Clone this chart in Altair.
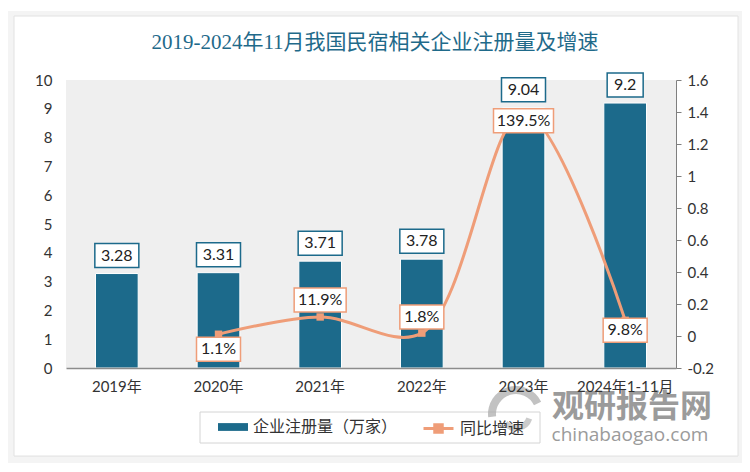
import altair as alt
import pandas as pd

# ---------------- data ----------------
years = ["2019年", "2020年", "2021年", "2022年", "2023年", "2024年1-11月"]
counts = [3.28, 3.31, 3.71, 3.78, 9.04, 9.2]
growth = [None, 0.011, 0.119, 0.018, 1.395, 0.098]
series_names = ["企业注册量（万家）", "同比增速"]
title_text = "2019-2024年11月我国民宿相关企业注册量及增速"
watermark_cn = "观研报告网"
watermark_en = "chinabaogao.com"
left_ticks = [0, 1, 2, 3, 4, 5, 6, 7, 8, 9, 10]
right_ticks = [-0.2, 0, 0.2, 0.4, 0.6, 0.8, 1, 1.2, 1.4, 1.6]

# ---------------- style ----------------
BAR = "#1c6a8b"
ORANGE = "#ef9d78"
TEXT = "#333333"
FONT = "Lato, 'Noto Sans CJK SC', sans-serif"
W, H = 610, 288
BOX_PATH = "'M-1,-' + (24 / datum.w) + 'H1V' + (24 / datum.w) + 'H-1Z'"

df = pd.DataFrame({"year": years, "count": counts, "growth": growth,
                   "s": series_names[0], "s2": series_names[1]})

xenc = alt.X("year:N", sort=years,
             scale=alt.Scale(paddingInner=0.58, paddingOuter=0.29),
             axis=alt.Axis(title=None, labelAngle=0, ticks=False,
                           domainColor="#8c8c8c", domainWidth=1.5,
                           labelFontSize=15, labelPadding=11,
                           labelColor=TEXT, labelFont=FONT, zindex=1))

yleft = alt.Y("count:Q",
              scale=alt.Scale(domain=[0, 10], nice=False, zero=True),
              axis=alt.Axis(title=None, orient="left", values=left_ticks,
                            ticks=False, domain=False, grid=False,
                            labelFontSize=15, labelPadding=14,
                            labelColor=TEXT, labelFont=FONT, zindex=1))

yright = alt.Y("growth:Q",
               scale=alt.Scale(domain=[-0.2, 1.6], nice=False, zero=False),
               axis=alt.Axis(title=None, orient="right", values=right_ticks,
                             tickSize=5, tickColor="#7f7f7f",
                             domainColor="#7f7f7f", grid=False,
                             labelFontSize=15, labelPadding=6,
                             labelColor=TEXT, labelFont=FONT, zindex=1,
                             labelExpr="replace(format(datum.value, '.1~f'), '\u2212', '-')"))

leg_common = dict(orient="none", direction="horizontal", title=None,
                  padding=0, labelFontSize=16, labelColor=TEXT,
                  labelFont=FONT, symbolSize=900, labelOffset=5)

bar_legend = alt.Legend(legendX=152, legendY=332,
                        symbolType="M-1,-0.26H1V0.26H-1Z",
                        symbolStrokeWidth=0, **leg_common)
line_legend = alt.Legend(legendX=356, legendY=332,
                         symbolType="M-1,0H1M-0.25,-0.25H0.25V0.25H-0.25Z",
                         symbolFillColor=ORANGE, symbolStrokeWidth=3,
                         **leg_common)

# ---------------- bars ----------------
bars = alt.Chart(df).mark_bar(stroke="white", strokeWidth=1).encode(
    x=xenc, y=yleft,
    fill=alt.Fill("s:N", scale=alt.Scale(domain=[series_names[0]],
                                         range=[BAR]),
                  legend=bar_legend))

bar_base = alt.Chart(df).transform_calculate(
    lab="format(datum.count, '.3~g')").transform_calculate(
    w="8 * length(datum.lab) + 12").transform_calculate(
    sz="datum.w * datum.w", path=BOX_PATH)

bar_box = bar_base.mark_point(filled=True, fill="white", stroke=BAR,
                              strokeWidth=1.5, opacity=1, fillOpacity=1,
                              strokeOpacity=1, yOffset=-18).encode(
    x=xenc, y=yleft,
    shape=alt.Shape("path:N", scale=None),
    size=alt.Size("sz:Q", scale=None))
bar_txt = bar_base.mark_text(fontSize=16, color="#222222", font=FONT,
                             baseline="middle", yOffset=-18).encode(
    x=xenc, y=yleft, text="lab:N")

bar_group = alt.layer(bars, bar_box, bar_txt)

# ---------------- line ----------------
line_src = alt.Chart(df).transform_filter("datum.growth != null")
line = line_src.mark_line(interpolate="catmull-rom", strokeWidth=3).encode(
    x=xenc, y=yright,
    stroke=alt.Stroke("s2:N", scale=alt.Scale(domain=[series_names[1]],
                                              range=[ORANGE]),
                      legend=line_legend))
pts = line_src.mark_point(shape="square", filled=True, size=55,
                          color=ORANGE, opacity=1).encode(x=xenc, y=yright)

label_dy = {"2020年": 15, "2021年": -17, "2022年": -16, "2023年": 8,
            "2024年1-11月": 10}

gl_layers = []
for yr, dy in label_dy.items():
    b = line_src.transform_filter(alt.datum.year == yr).transform_calculate(
        lab="format(datum.growth, '.1%')").transform_calculate(
        w="8 * length(datum.lab) + 12").transform_calculate(
        sz="datum.w * datum.w", path=BOX_PATH)
    gl_layers.append(b.mark_point(filled=True, fill="white", stroke=ORANGE,
                                  strokeWidth=1.5, opacity=1, fillOpacity=1,
                                  strokeOpacity=1, yOffset=dy).encode(
        x=xenc, y=yright, shape=alt.Shape("path:N", scale=None),
        size=alt.Size("sz:Q", scale=None)))
    gl_layers.append(b.mark_text(fontSize=16, color="#222222", font=FONT,
                                 baseline="middle", yOffset=dy).encode(
        x=xenc, y=yright, text="lab:N"))

line_group = alt.layer(line, pts, *gl_layers)

# ---------------- decorations ----------------
one = alt.Data(values=[{}])
shadow = alt.Chart(one).mark_rect(fill="#f1f1f1", stroke="#f4f4f4",
                                  strokeWidth=6).encode(
    x=alt.value(-55), x2=alt.value(675), y=alt.value(-66), y2=alt.value(380))
card = alt.Chart(one).mark_rect(fill="white", stroke="#e2e2e2",
                                strokeWidth=1).encode(
    x=alt.value(-52), x2=alt.value(672), y=alt.value(-64), y2=alt.value(376))
plot_bg = alt.Chart(one).mark_rect(fill="#efefef").encode(
    x=alt.value(0), x2=alt.value(W), y=alt.value(0), y2=alt.value(H))
legend_box = alt.Chart(one).mark_rect(fill="white", stroke="#d4d4d4",
                                      strokeWidth=1).encode(
    x=alt.value(134), x2=alt.value(474), y=alt.value(332), y2=alt.value(363))

title = alt.Chart(one).mark_text(
    text=title_text, fontSize=21, color="#1f6a8a",
    font="'Liberation Serif', 'Noto Sans CJK SC', serif",
    baseline="middle", align="center").encode(
    x=alt.value(309), y=alt.value(-37))

logo1 = alt.Chart(one).mark_arc(color="#a8a8a8", opacity=0.7).encode(
    x=alt.value(450), y=alt.value(334), theta=alt.value(4.6),
    theta2=alt.value(7.4), radius=alt.value(28), radius2=alt.value(20))
logo2 = alt.Chart(one).mark_arc(color="#b5b5b5", opacity=0.7).encode(
    x=alt.value(450), y=alt.value(334), theta=alt.value(1.9),
    theta2=alt.value(4.0), radius=alt.value(17), radius2=alt.value(11))

wm1 = alt.Chart(one).mark_text(text=watermark_cn, fontSize=32,
                               fontWeight="bold", color="#8a8a8a",
                               opacity=0.85, font="'Noto Sans CJK SC'").encode(
    x=alt.value(566), y=alt.value(327))
wm2 = alt.Chart(one).mark_text(text=watermark_en, fontSize=19,
                               color="#8a8a8a", opacity=0.85,
                               font="'Open Sans', sans-serif").encode(
    x=alt.value(564), y=alt.value(355))

chart = alt.layer(shadow, card, plot_bg, legend_box, title, bar_group,
                  line_group, logo1, logo2, wm1, wm2).resolve_scale(
    y="independent"
).properties(
    width=W, height=H, autosize="none",
    padding={"left": 58, "top": 72, "right": 66, "bottom": 96},
    background="white",
).configure_view(stroke=None)

chart.save("out.html", embed_options={"renderer": "svg", "actions": False})
